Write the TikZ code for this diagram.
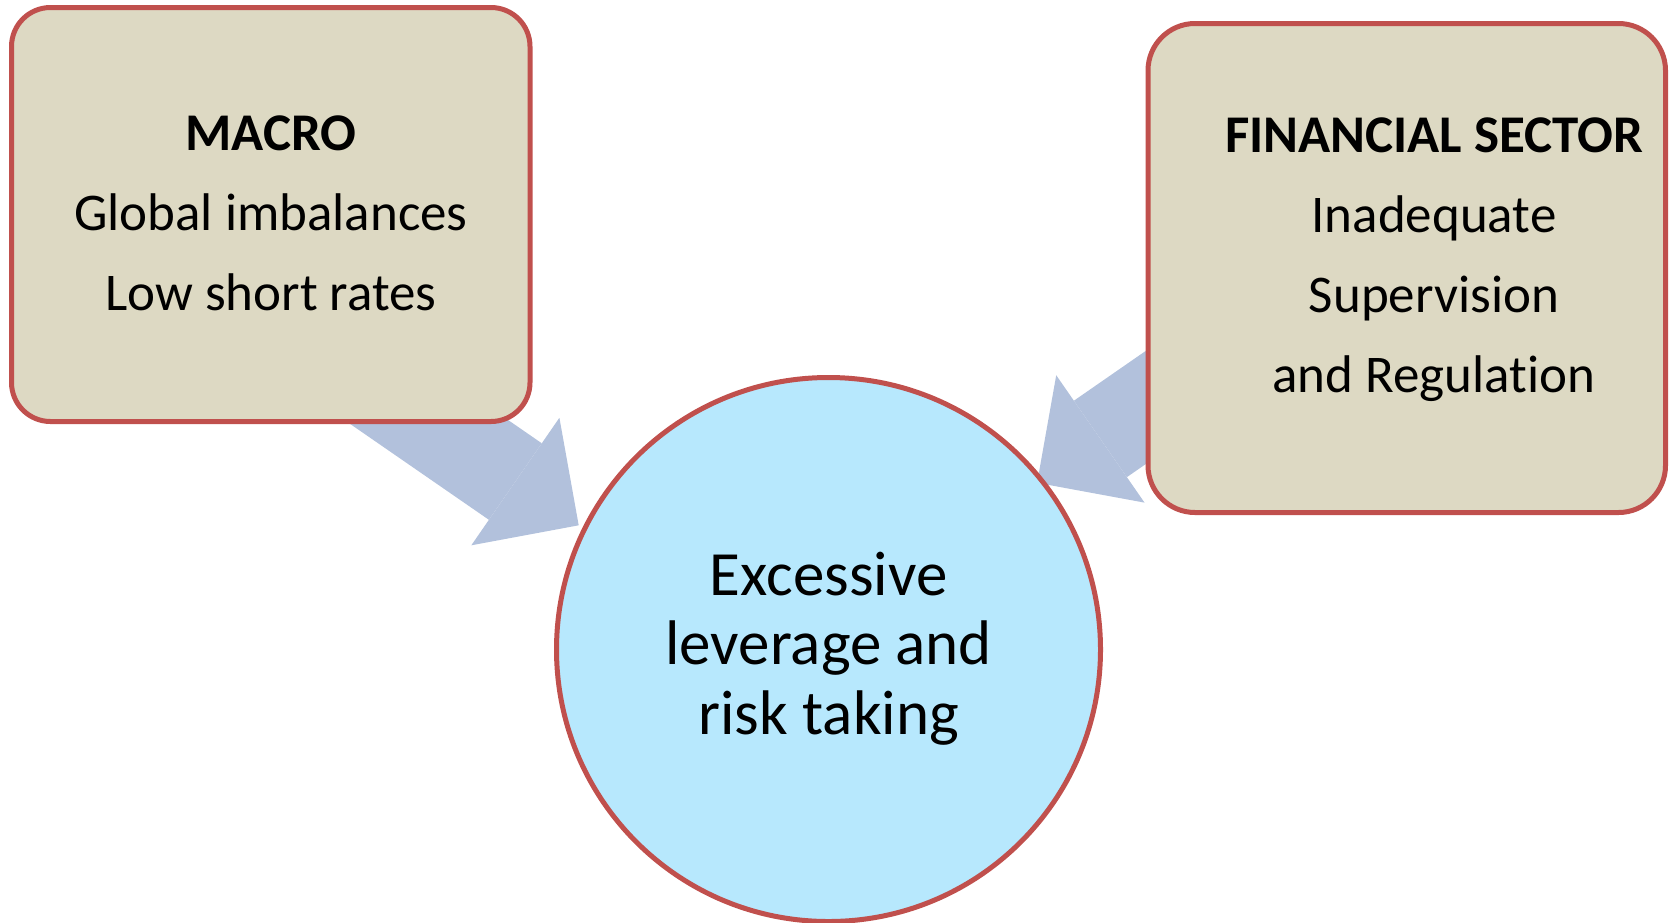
\documentclass[tikz,border=0pt]{standalone}
\usepackage{fontspec}
\setmainfont{Carlito}[Ligatures=NoCommon]
\usetikzlibrary{arrows.meta}
\definecolor{boxfill}{HTML}{DDD9C3}
\definecolor{boxline}{HTML}{C0504D}
\definecolor{circfill}{HTML}{B7E8FD}
\definecolor{arrowfill}{HTML}{B2C1DC}
\begin{document}
\begin{tikzpicture}[x=1pt,y=-1pt,
  factorbox/.style={draw=boxline, fill=boxfill, line width=5pt, rectangle, inner sep=0pt},
  centrebubble/.style={draw=boxline, fill=circfill, line width=5pt, circle, inner sep=0pt, minimum size=544pt},
  bigarrow/.style={draw=arrowfill, line width=93pt, -{Triangle[length=77pt,width=155pt,line width=0pt]}},
  boxtext/.style={align=center, font=\fontsize{53}{80}\selectfont, anchor=base, inner sep=0pt}
]
\useasboundingbox (0,0) rectangle (1669,922);
\coordinate (ls) at (309,339);
\coordinate (lt) at (578.7,525.3);
\coordinate (rs) at (1308.4,294.7);
\coordinate (rt) at (1037.1,482.8);
\draw[bigarrow] (ls) -- (lt);
\draw[bigarrow] (rs) -- (rt);
\node[factorbox, minimum width=518.5pt, minimum height=414pt, rounded corners=39pt] (macro) at (270.75,214.5) {};
\node[factorbox, minimum width=517.5pt, minimum height=489pt, rounded corners=47pt] (fin) at (1406.75,268) {};
\node[centrebubble] (lev) at (828.5,649.5) {};
\node[boxtext] (macrotxt) at (271,310) {\textbf{MACRO}\\Global imbalances\\Low short rates};
\node[boxtext] (fintxt) at (1434,392.7) {\textbf{FINANCIAL SECTOR}\\Inadequate\\Supervision\\and Regulation};
\node[boxtext, font=\fontsize{63}{69.5}\selectfont] (levtxt) at (828.7,734) {Excessive\\leverage and\\risk taking};
\end{tikzpicture}
\end{document}
